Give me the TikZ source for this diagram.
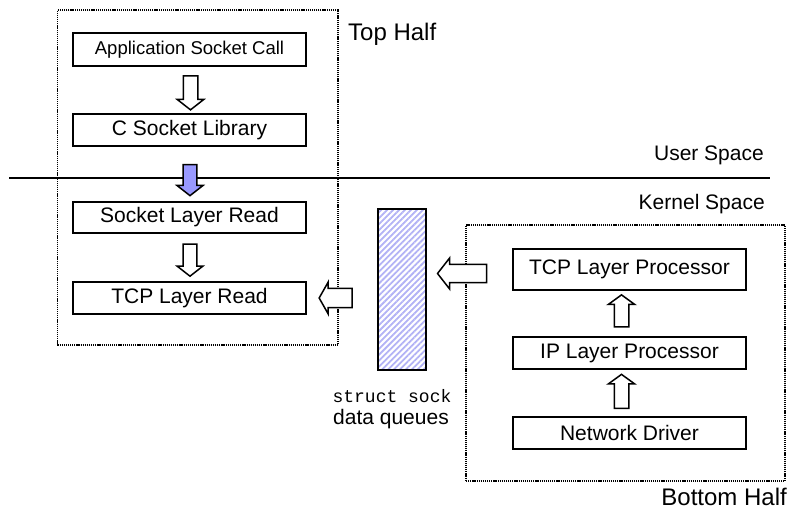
\documentclass[tikz,border=0pt]{standalone}
\usepackage{fontspec}
\setmainfont{Liberation Sans}
\setmonofont{Liberation Mono}
\usetikzlibrary{shapes.arrows,patterns.meta,calc}
\definecolor{arrowblue}{RGB}{153,153,255}
\definecolor{hatchblue}{RGB}{178,178,245}
\tikzset{
  box/.style={draw, line width=1.8bp, fill=white, minimum width=233bp, inner sep=0pt,
    font=\fontsize{21bp}{24bp}\selectfont},
  region/.style={draw, line width=1.3bp, dash pattern=on 1.2bp off 0.9bp, inner sep=0pt},
  blockarrow/.style={single arrow, draw, line width=1.5bp, fill=white, inner xsep=0pt,
    inner ysep=6.5bp, single arrow head extend=6bp, single arrow tip angle=104},
  lbl/.style={inner sep=0pt, font=\fontsize{21bp}{24bp}\selectfont},
  biglbl/.style={inner sep=0pt, font=\fontsize{24bp}{28bp}\selectfont},
}
\begin{document}
\begin{tikzpicture}[x=1bp,y=-1bp]
\useasboundingbox (0,0) rectangle (790,514);
% regions
\node[region, minimum width=280.5bp, minimum height=335bp] (tophalf) at (197.75,177.5) {};
\node[region, minimum width=319bp, minimum height=256bp] (bothalf) at (625.5,353) {};
% user/kernel divider
\coordinate (divL) at (9,178);
\coordinate (divR) at (770,178);
\draw[line width=1.8bp] (divL) -- (divR);
% left column
\node[box, minimum height=33bp, font=\fontsize{18.5bp}{22bp}\selectfont] (app) at (189.5,49.5) {Application Socket Call};
\node[box, minimum height=32bp] (clib) at (189.5,130) {C Socket Library};
\node[box, minimum height=31bp] (sockread) at (189.5,217.5) {Socket Layer Read};
\node[box, minimum height=32bp] (tcpread) at (189.5,298) {TCP Layer Read};
% right column
\node[box, minimum height=41bp] (tcpproc) at (629.5,269.5) {TCP Layer Processor};
\node[box, minimum height=32bp] (ip) at (629.5,353) {IP Layer Processor};
\node[box, minimum height=32bp] (nd) at (629.5,433) {Network Driver};
% queue
\node[draw, line width=1.8bp, minimum width=48bp, minimum height=161bp, inner sep=0pt,
  pattern={Lines[angle=45,distance=4.2bp,line width=1.8bp]}, pattern color=hatchblue] (queue) at (402,289.5) {};
\node[inner sep=0pt, font=\ttfamily\fontsize{18bp}{20bp}\selectfont] (qlbl1) at (392,396) {struct sock};
\node[lbl] (qlbl2) at (391,419) {data queues};
% labels
\node[biglbl, anchor=west] (toplbl) at (348,34) {Top Half};
\node[lbl, anchor=east] (userlbl) at (764,155) {User Space};
\node[lbl, anchor=east] (kernlbl) at (765,204) {Kernel Space};
\node[biglbl, anchor=east] (botlbl) at (787,497) {Bottom Half};
% block arrows
\node[blockarrow, rotate=-90, minimum height=34bp, minimum width=25bp] (a1) at ($(app.south)!0.5!(clib.north)+(1,0)$) {};
\node[blockarrow, rotate=-90, minimum height=31bp, minimum width=26bp, fill=arrowblue, inner ysep=5.8bp] (a2) at (190,177.5) {};
\node[blockarrow, rotate=-90, minimum height=32bp, minimum width=26bp, inner ysep=6bp] (a3) at ($(sockread.south)!0.5!(tcpread.north)+(0.5,0)$) {};
\node[blockarrow, rotate=180, minimum height=33bp, minimum width=32bp, inner ysep=8.5bp, single arrow tip angle=121] (a4) at ($(tcpread.east)+(31.5,0)$) {};
\node[blockarrow, rotate=180, minimum height=49bp, minimum width=31bp, inner ysep=8bp, single arrow tip angle=104] (a5) at ($(tcpproc.west)+(-46.5,4)$) {};
\node[blockarrow, rotate=90, minimum height=32bp, minimum width=25bp, single arrow tip angle=108] (a6) at ($(tcpproc.south)!0.5!(ip.north)+(-8,0)$) {};
\node[blockarrow, rotate=90, minimum height=34bp, minimum width=25bp, single arrow tip angle=108] (a7) at ($(ip.south)!0.5!(nd.north)+(-8,1)$) {};
\end{tikzpicture}
\end{document}
